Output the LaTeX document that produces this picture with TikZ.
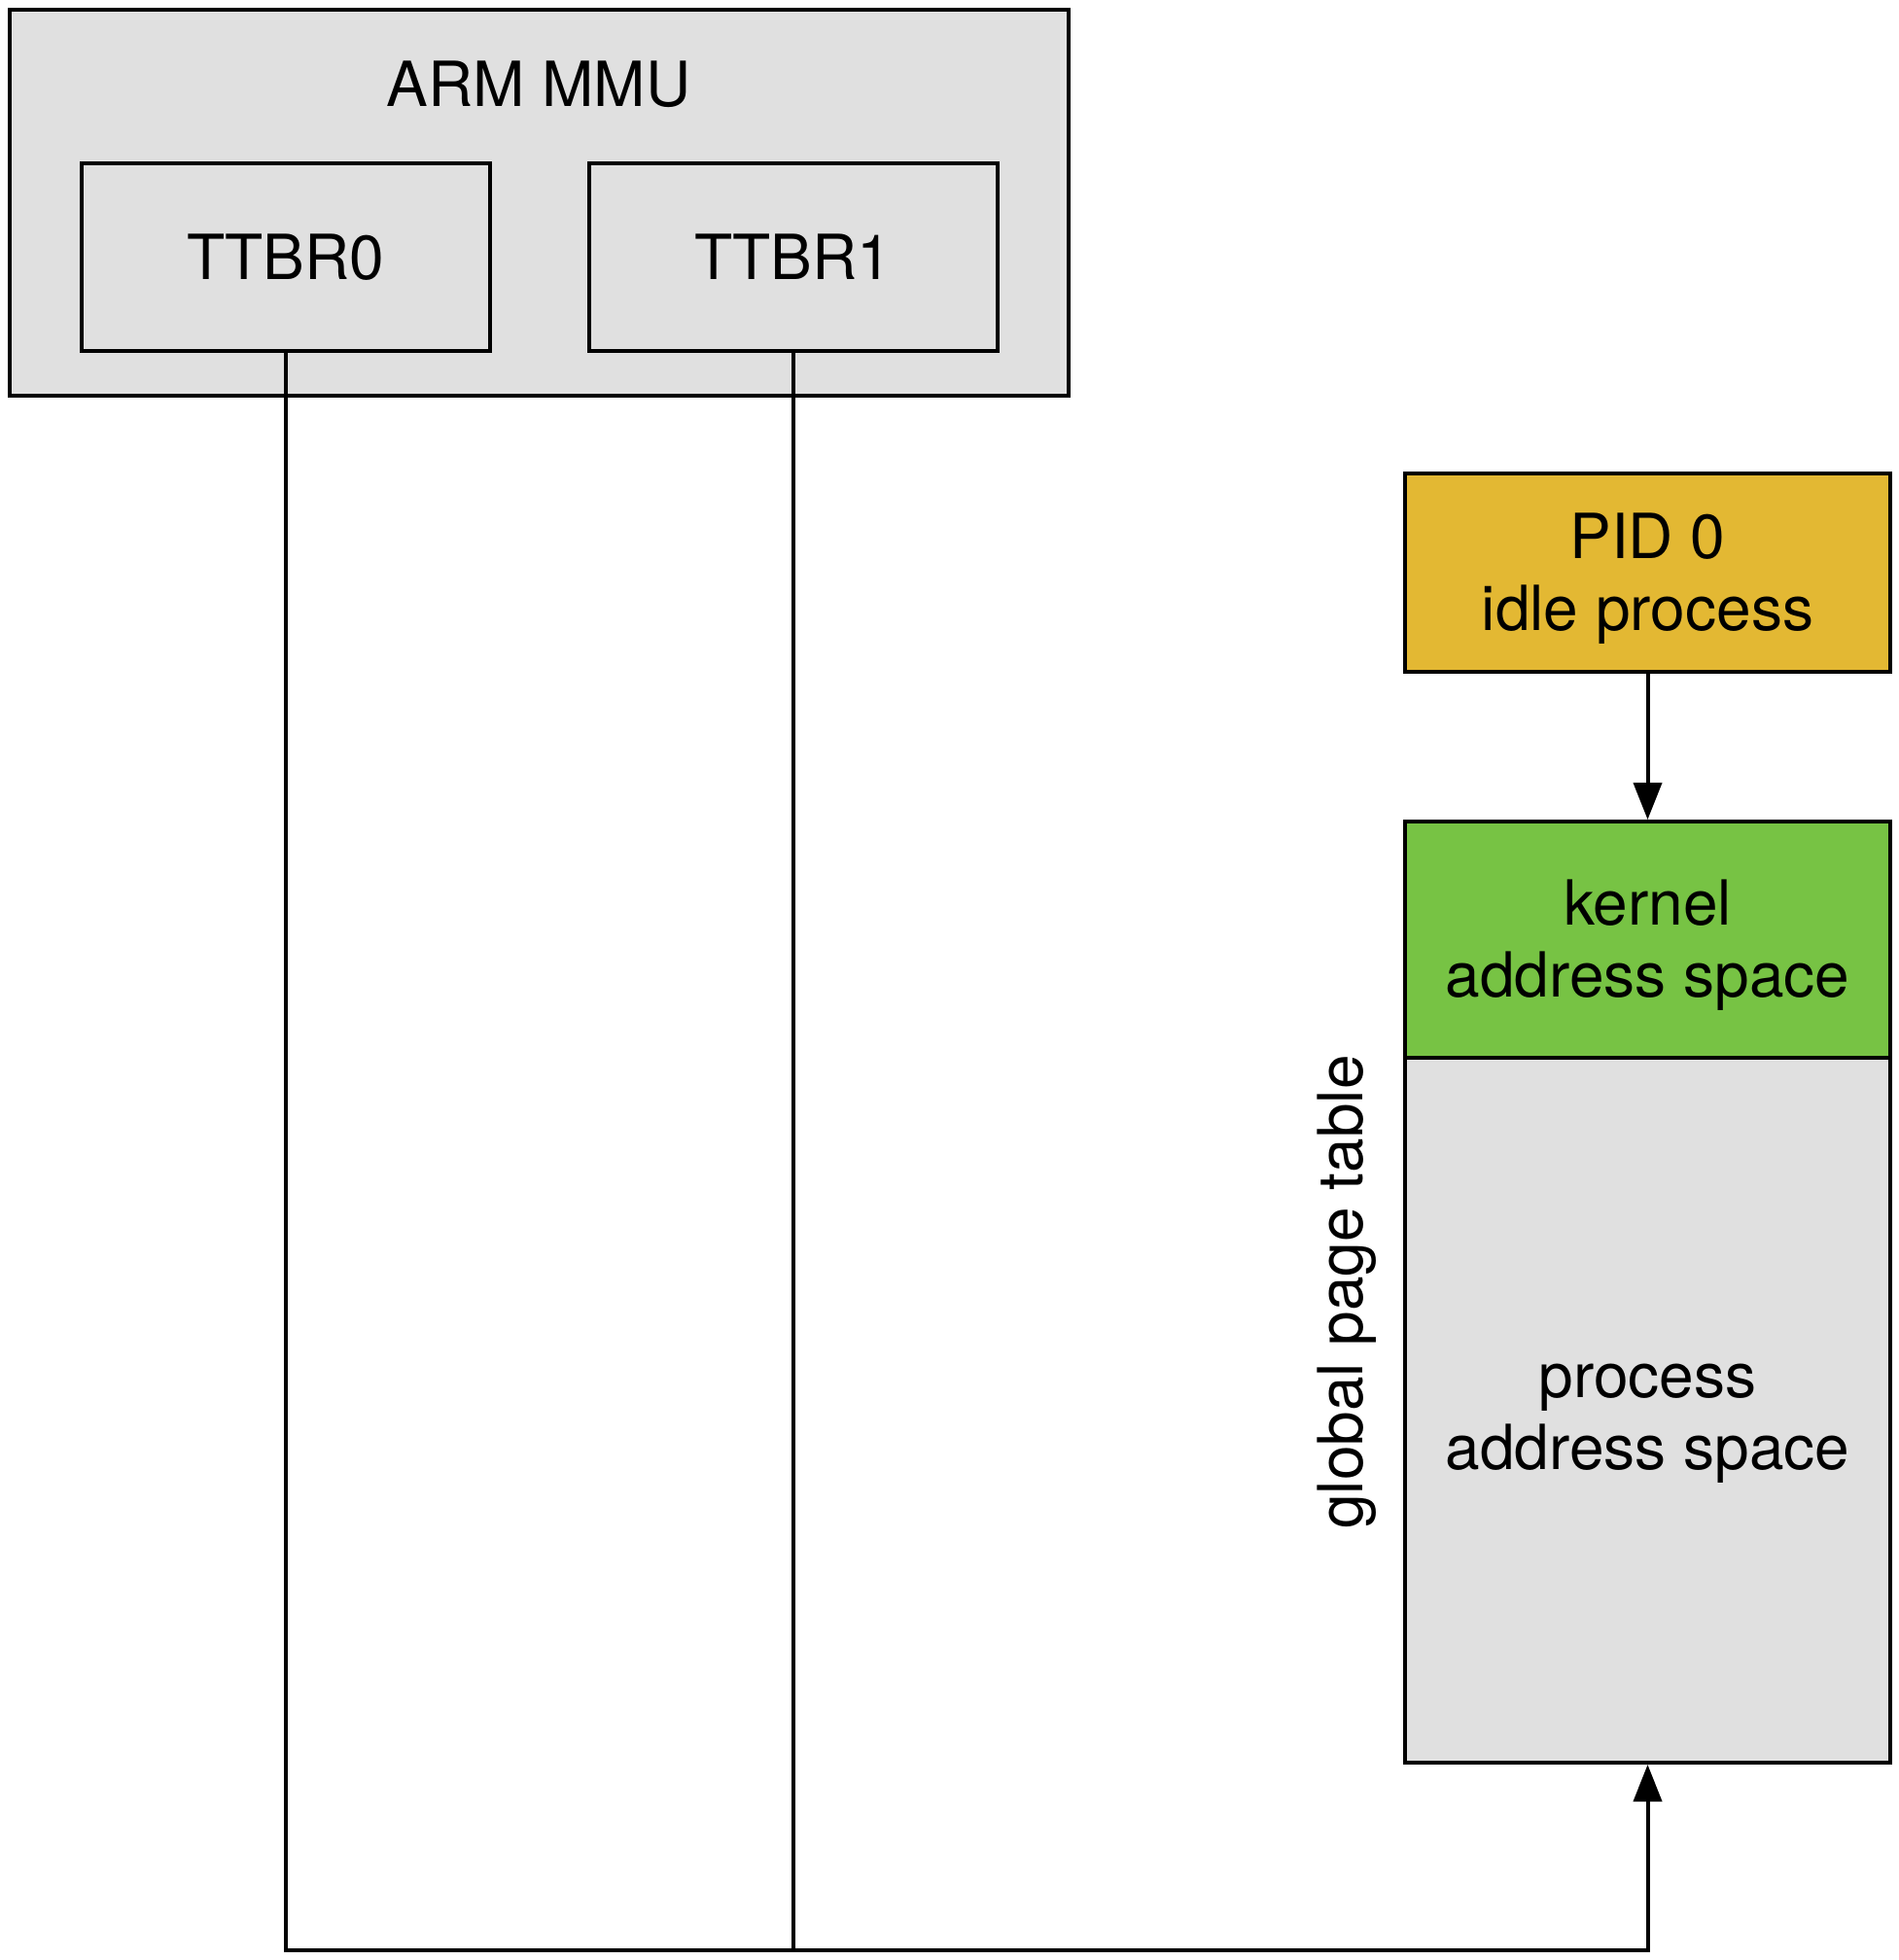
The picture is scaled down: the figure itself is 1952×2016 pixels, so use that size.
\documentclass[tikz,border=0pt]{standalone}
\usepackage{fontspec}
\setmainfont{TeX Gyre Heros}
\usetikzlibrary{arrows.meta}
\definecolor{boxgray}{RGB}{224,224,224}
\definecolor{pidgold}{RGB}{227,184,51}
\definecolor{kgreen}{RGB}{119,195,68}
\begin{document}
\begin{tikzpicture}[x=1pt,y=-1pt,
  font=\fontsize{64}{74}\selectfont,
  box/.style={draw, line width=4pt, inner sep=0pt, align=center},
  txt/.style={inner sep=0pt, align=center},
  link/.style={line width=4pt},
  arr/.style={-{Triangle[width=29pt,length=38pt]}}]
\useasboundingbox (0,0) rectangle (1952,2016);
\node[box, fill=boxgray, minimum width=1089pt, minimum height=397pt] (mmu) at (554.5,208.5) {};
\node[txt] (mmut) at (554,87) {ARM MMU};
\node[box, fill=boxgray, minimum width=420pt, minimum height=193pt] (t0) at (294,264.5) {TTBR0};
\node[box, fill=boxgray, minimum width=420pt, minimum height=193pt] (t1) at (815.5,264.5) {TTBR1};
\node[box, fill=pidgold, minimum width=499pt, minimum height=204pt] (pid) at (1694.5,589) {};
\node[txt] (pidt) at ([yshift=-6pt]pid.center) {PID 0\\idle process};
\node[box, fill=kgreen, minimum width=499pt, minimum height=243pt] (kern) at (1694.5,966.5) {};
\node[txt] (kernt) at ([yshift=-6pt]kern.center) {kernel\\address space};
\node[box, fill=boxgray, minimum width=499pt, minimum height=725pt] (proc) at (1694.5,1450.5) {};
\node[txt] (proct) at ([yshift=-14pt]proc.center) {process\\address space};
\node[rotate=90] (gpt) at (1385,1329) {global page table};
\coordinate (bot) at (0,2006);
\draw[link, arr] (t0.south) |- (proc.south |- bot) -- (proc.south);
\draw[link] (t1.south) -- (t1.south |- bot);
\draw[link, arr] (pid.south) -- (kern.north);
\end{tikzpicture}
\end{document}
